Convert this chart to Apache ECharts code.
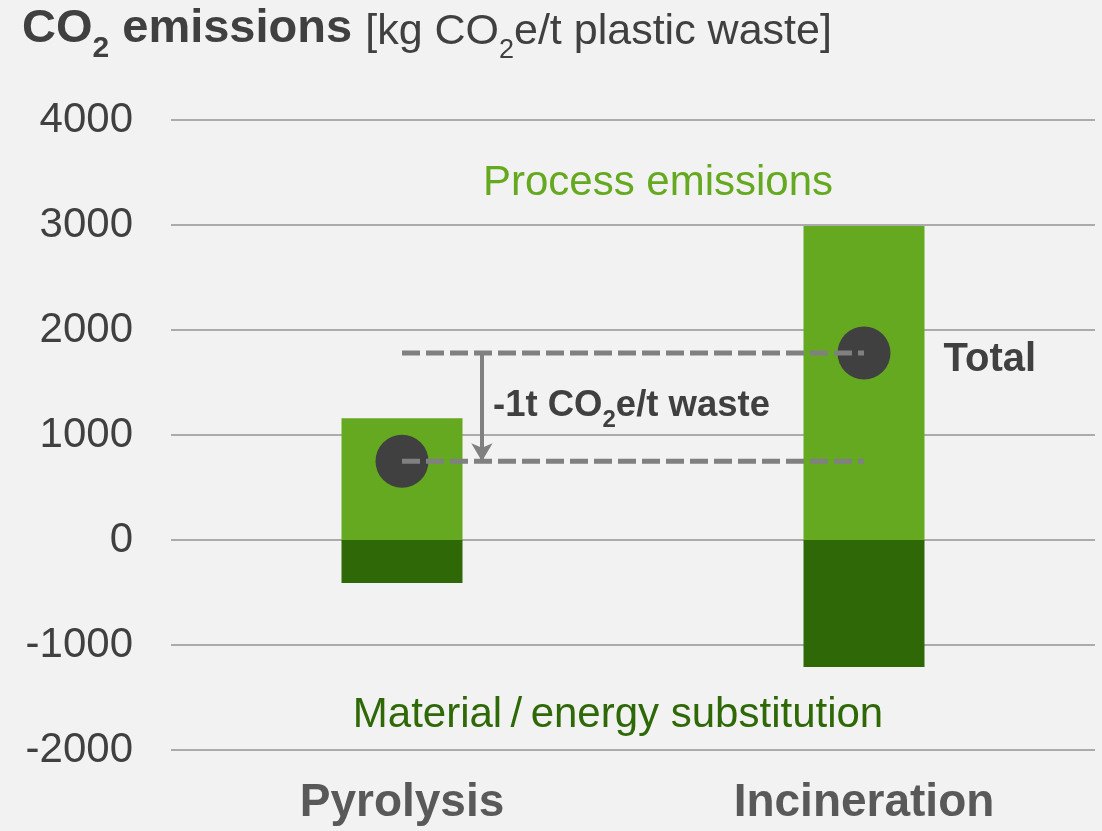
<!DOCTYPE html>
<html>
<head>
<meta charset="utf-8">
<script src="https://cdn.jsdelivr.net/npm/echarts@6/dist/echarts.min.js"></script>
<style>
html,body{margin:0;padding:0;background:#F2F2F2;}
#chart{width:1102px;height:831px;}
</style>
</head>
<body>
<div id="chart"></div>
<script>
const categories = ['Pyrolysis', 'Incineration'];
const processEmissions = [1160, 2990];
const substitution = [-410, -1210];
const totals = [750, 1780];
const yMin = -2000, yMax = 4000, yStep = 1000;
const arrowX = 0.173; // position between categories on hidden value axis

const FONT = '"Liberation Sans", Arial, sans-serif';
const chart = echarts.init(document.getElementById('chart'));

const option = {
  backgroundColor: '#F2F2F2',
  animation: false,
  grid: { left: 171, right: 7, top: 120, bottom: 81 },
  xAxis: [
    {
      type: 'category', data: categories,
      axisLine: { show: false }, axisTick: { show: false },
      axisLabel: { color: '#595959', fontSize: 46, fontWeight: 'bold', fontFamily: FONT, margin: 30 }
    },
    { type: 'value', min: -0.5, max: 1.5, show: false }
  ],
  yAxis: {
    type: 'value', min: yMin, max: yMax, interval: yStep,
    axisLine: { show: false }, axisTick: { show: false },
    axisLabel: { color: '#404040', fontSize: 42, fontFamily: FONT, margin: 38, formatter: v => String(v) },
    splitLine: { lineStyle: { color: '#ABABAB', width: 2 } }
  },
  series: [
    {
      name: 'Process emissions', type: 'bar', stack: 'a', barWidth: 121,
      data: processEmissions, itemStyle: { color: '#65A920' }
    },
    {
      name: 'Material / energy substitution', type: 'bar', stack: 'a', barWidth: 121,
      data: substitution, itemStyle: { color: '#2E6807' }
    },
    {
      name: 'Total', type: 'scatter', symbolSize: 53, z: 3,
      data: totals.map((v, i) => [categories[i], v]),
      itemStyle: { color: '#404040', opacity: 1 },
      label: {
        show: true, position: 'right', distance: 53, offset: [0, 7],
        formatter: p => p.dataIndex === 1 ? 'Total' : '',
        color: '#404040', fontSize: 40, fontWeight: 'bold', fontFamily: FONT
      }
    },
    {
      type: 'line', z: 4, symbol: 'none', silent: true,
      data: categories.map(c => [c, totals[1]]),
      lineStyle: { color: '#808080', width: 5, type: [18, 6] }
    },
    {
      type: 'line', z: 4, symbol: 'none', silent: true,
      data: categories.map(c => [c, totals[0]]),
      lineStyle: { color: '#808080', width: 5, type: [18, 6] }
    },
    {
      type: 'line', xAxisIndex: 1, data: [], silent: true, z: 5,
      markLine: {
        silent: true, symbol: ['none', 'arrow'], symbolSize: [16, 18],
        label: { show: false },
        lineStyle: { color: '#808080', width: 4, type: 'solid' },
        data: [[{ coord: [arrowX, totals[1]] }, { coord: [arrowX, totals[0]] }]]
      }
    }
  ],
  graphic: [
    {
      type: 'text', x: 22, y: 6,
      style: {
        text: '{b|CO}{bs|2}{b| emissions }{n|[kg CO}{ns|2}{n|e/t plastic waste]}',
        rich: {
          b: { fontSize: 47, fontWeight: 'bold', fontFamily: FONT, fill: '#404040', lineHeight: 58, verticalAlign: 'top' },
          bs: { fontSize: 30, fontWeight: 'bold', fontFamily: FONT, fill: '#404040', lineHeight: 58, verticalAlign: 'bottom' },
          n: { fontSize: 43, fontFamily: FONT, fill: '#404040', lineHeight: 58, verticalAlign: 'top', padding: [5, 0, 0, 0] },
          ns: { fontSize: 27, fontFamily: FONT, fill: '#404040', lineHeight: 58, verticalAlign: 'bottom' }
        }
      }
    },
    {
      type: 'text', x: 493, y: 387,
      style: {
        text: '{b|-1t CO}{s|2}{b|e/t waste}',
        rich: {
          b: { fontSize: 36.5, fontWeight: 'bold', fontFamily: FONT, fill: '#404040', lineHeight: 45, verticalAlign: 'top' },
          s: { fontSize: 24, fontWeight: 'bold', fontFamily: FONT, fill: '#404040', lineHeight: 45, verticalAlign: 'bottom' }
        }
      }
    },
    {
      type: 'text', x: 658, y: 183,
      style: { text: 'Process emissions', fontSize: 42, fontFamily: FONT, fill: '#65A920', align: 'center', verticalAlign: 'middle' }
    },
    {
      type: 'text', x: 618, y: 715,
      style: { text: 'Material\u2009/\u2009energy substitution', fontSize: 42, fontFamily: FONT, fill: '#2E6807', align: 'center', verticalAlign: 'middle' }
    }
  ]
};
chart.setOption(option);
</script>
</body>
</html>
